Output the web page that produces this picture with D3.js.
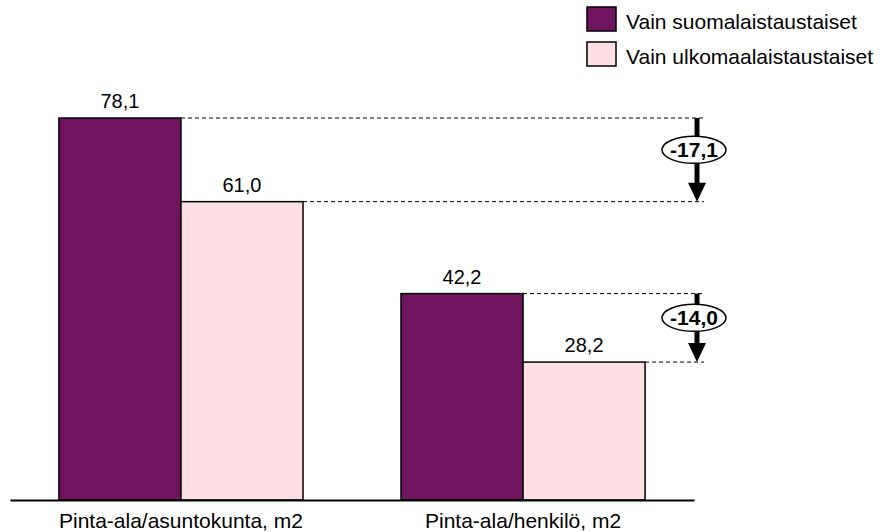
<!DOCTYPE html>
<html>
<head>
<meta charset="utf-8">
<script src="https://cdn.jsdelivr.net/npm/d3@7"></script>
<style>
  html, body { margin: 0; padding: 0; background: #fff; }
  svg { display: block; font-family: Arial, "Liberation Sans", sans-serif; }
</style>
</head>
<body>
<svg id="chart" width="885" height="532"></svg>
<script>
// Living space by household background (m2)
const categories = ["Pinta-ala/asuntokunta, m2", "Pinta-ala/henkilö, m2"];
const seriesNames = ["Vain suomalaistaustaiset", "Vain ulkomaalaistaustaiset"];
const finnishValues = [78.1, 42.2];
const foreignValues = [61.0, 28.2];
const seriesColors = ["#70145f", "#ffdee4"];

// Finnish number style: comma decimal, plain hyphen for negatives
const fmt = v => d3.format(".1f")(v).replace("\u2212", "-").replace(".", ",");

const svg = d3.select("#chart");
const baseY = 500;

const x0 = d3.scaleBand()
  .domain(categories)
  .range([10, 694])
  .paddingInner(0.2865)
  .paddingOuter(0.143);

const x1 = d3.scaleBand()
  .domain(seriesNames)
  .range([0, x0.bandwidth()]);

const y = d3.scaleLinear()
  .domain([0, 100])
  .range([baseY, baseY - 489.1]);

const rows = categories.map((c, i) => ({
  category: c,
  values: [
    { series: seriesNames[0], value: finnishValues[i], color: seriesColors[0] },
    { series: seriesNames[1], value: foreignValues[i], color: seriesColors[1] }
  ]
}));

// Bars
const groups = svg.append("g").selectAll("g")
  .data(rows)
  .join("g")
  .attr("transform", d => `translate(${x0(d.category)},0)`);

groups.selectAll("rect")
  .data(d => d.values)
  .join("rect")
  .attr("x", d => x1(d.series))
  .attr("y", d => y(d.value))
  .attr("width", x1.bandwidth())
  .attr("height", d => baseY - y(d.value))
  .attr("fill", d => d.color)
  .attr("stroke", "#000")
  .attr("stroke-width", 1.5);

groups.selectAll("text.val")
  .data(d => d.values)
  .join("text")
  .attr("class", "val")
  .attr("x", d => x1(d.series) + x1.bandwidth() / 2)
  .attr("y", d => y(d.value) - 10)
  .attr("text-anchor", "middle")
  .attr("font-size", 20)
  .attr("fill", "#000")
  .text(d => fmt(d.value));

// Difference markers: dashed guides, arrow and value in an ellipse
const arrowX = 697;
const guideEnd = 704;
const diffs = svg.append("g");

rows.forEach(r => {
  const g = diffs.append("g");
  r.values.forEach(v => {
    const right = x0(r.category) + x1(v.series) + x1.bandwidth();
    g.append("line")
      .attr("x1", right).attr("x2", guideEnd)
      .attr("y1", y(v.value)).attr("y2", y(v.value))
      .attr("stroke", "#000")
      .attr("stroke-width", 1)
      .attr("stroke-dasharray", "4,3");
  });
  const yTop = y(r.values[0].value);
  const yBot = y(r.values[1].value);
  const headLen = 19;
  g.append("line")
    .attr("x1", arrowX).attr("x2", arrowX)
    .attr("y1", yTop).attr("y2", yBot - headLen + 1)
    .attr("stroke", "#000")
    .attr("stroke-width", 5);
  g.append("path")
    .attr("d", `M${arrowX - 9},${yBot - headLen} L${arrowX + 9},${yBot - headLen} L${arrowX},${yBot} Z`)
    .attr("fill", "#000");
  const cy = (yTop + yBot) / 2 - 10;
  const cx = arrowX - 3;
  g.append("ellipse")
    .attr("cx", cx).attr("cy", cy)
    .attr("rx", 32).attr("ry", 13.5)
    .attr("fill", "#fff")
    .attr("stroke", "#000")
    .attr("stroke-width", 1.5);
  g.append("text")
    .attr("x", cx).attr("y", cy)
    .attr("dy", "0.36em")
    .attr("text-anchor", "middle")
    .attr("font-size", 21)
    .attr("font-weight", "bold")
    .text(fmt(r.values[1].value - r.values[0].value));
});

// Category axis
const axis = svg.append("g")
  .attr("transform", `translate(0,${baseY})`)
  .call(d3.axisBottom(x0).tickSize(0).tickPadding(13));
axis.select(".domain").attr("stroke", "#000").attr("stroke-width", 2);
axis.selectAll(".tick text")
  .attr("font-size", 21)
  .attr("font-family", "Arial, 'Liberation Sans', sans-serif")
  .attr("fill", "#000");

// Legend
const legend = svg.append("g").attr("transform", "translate(587,0)");
seriesNames.forEach((s, i) => {
  const ly = 7 + i * 35;
  legend.append("rect")
    .attr("x", 0).attr("y", ly)
    .attr("width", 29).attr("height", 24)
    .attr("fill", seriesColors[i])
    .attr("stroke", "#000")
    .attr("stroke-width", 1.5);
  legend.append("text")
    .attr("x", 39).attr("y", ly + 14)
    .attr("dy", "0.36em")
    .attr("font-size", 21)
    .attr("fill", "#000")
    .text(s);
});
</script>
</body>
</html>
